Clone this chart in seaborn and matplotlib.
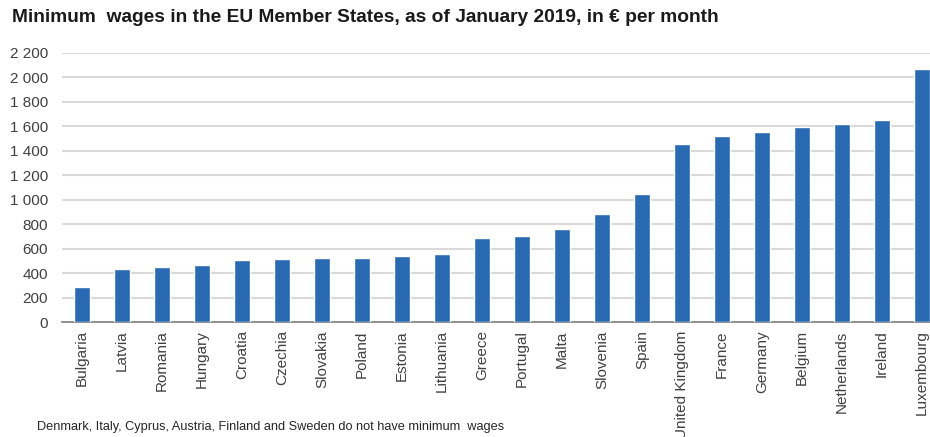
import pandas as pd
import seaborn as sns
import matplotlib.pyplot as plt

countries = ['Bulgaria', 'Latvia', 'Romania', 'Hungary', 'Croatia', 'Czechia',
             'Slovakia', 'Poland', 'Estonia', 'Lithuania', 'Greece', 'Portugal',
             'Malta', 'Slovenia', 'Spain', 'United Kingdom', 'France', 'Germany',
             'Belgium', 'Netherlands', 'Ireland', 'Luxembourg']
wages = [286, 430, 446, 464, 506, 519, 520, 523, 540, 555, 684, 700,
         762, 887, 1050, 1453, 1521, 1557, 1594, 1616, 1656, 2071]
yticks = list(range(0, 2201, 200))
ytick_labels = ['0', '200', '400', '600', '800', '1 000', '1 200', '1 400',
                '1 600', '1 800', '2 000', '2 200']

df = pd.DataFrame({'country': countries, 'wage': wages})

sns.set_style('white')
plt.rcParams['font.family'] = ['Liberation Sans', 'DejaVu Sans']

fig = plt.figure(figsize=(9.3, 4.37), dpi=100)
# the last bar is cut off by the right edge in the original, so the axes runs past it
ax = fig.add_axes([62 / 930, 115 / 437, 880 / 930, 269 / 437])
sns.barplot(data=df, x='country', y='wage', color='#2a6ab3', width=0.4,
            saturation=1, ax=ax, zorder=3)

ax.set_ylim(0, 2200)
ax.set_xlim(-0.5, 21.5)
ax.set_yticks(yticks)
ax.set_yticklabels(ytick_labels, fontsize=11, color='#404040')
ax.tick_params(axis='x', labelrotation=90, labelsize=11, labelcolor='#404040', length=0, pad=6)
ax.tick_params(axis='y', length=0, pad=10)
ax.yaxis.grid(True, color='#d9d9d9', linewidth=1.5, zorder=0)
ax.set_axisbelow(True)
ax.set_xlabel('')
ax.set_ylabel('')
for side in ['top', 'right', 'left']:
    ax.spines[side].set_visible(False)
ax.spines['bottom'].set_color('#7f7f7f')
ax.spines['bottom'].set_linewidth(1.2)

fig.text(12 / 930, 1 - 18 / 437,
         'Minimum  wages in the EU Member States, as of January 2019, in \u20ac per month',
         fontsize=13.8, fontweight='bold', color='#1a1a1a', va='center', ha='left')
fig.text(37 / 930, 1 - 427 / 437,
         'Denmark, Italy, Cyprus, Austria, Finland and Sweden do not have minimum  wages',
         fontsize=9.2, color='#262626', va='center', ha='left')

plt.savefig('out.png', dpi=100)
